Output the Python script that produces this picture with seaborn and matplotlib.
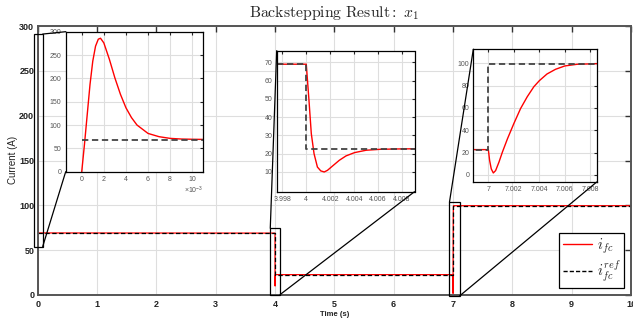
import numpy as np
import pandas as pd
import matplotlib
matplotlib.use("Agg")
import matplotlib.pyplot as plt
import seaborn as sns
from matplotlib.patches import Rectangle, ConnectionPatch
from matplotlib.lines import Line2D

sns.set_style("white")
plt.rcParams['font.family'] = ['Liberation Sans', 'DejaVu Sans']
plt.rcParams['mathtext.fontset'] = 'cm'

# ---- data ----
# start-up transient (t in ms after 0 s)
t_start_ms = [0, 0.25, 0.5, 0.75, 1.0, 1.25, 1.5, 1.7, 2.0, 2.5, 3.0, 3.5, 4.0,
              4.5, 5.0, 5.5, 6.0, 7.0, 8.0, 9.0, 10.0, 11.0]
i_start = [0, 59, 123, 187, 237, 269, 284, 286, 276, 241, 201, 166, 137,
           116, 100, 91, 82, 75, 71.4, 70, 69.5, 69.2]
# step-down transient (t in ms after 4 s)
t_down_ms = [0, 0.225, 0.42, 0.65, 0.93, 1.21, 1.5, 1.77, 2.2, 2.76, 3.32,
             4.03, 5.0, 6.14, 7.55, 9.04]
i_down = [69, 49.3, 31, 20, 12.7, 10.6, 10, 10.9, 13.3, 16.4, 18.8,
          20.6, 21.9, 22.4, 22.6, 22.7]
# step-up transient (t in ms after 7 s)
t_up_ms = [0, 0.1, 0.23, 0.39, 0.57, 0.83, 1.1, 1.5, 2.0, 2.53, 3.05, 3.57,
           4.0, 4.6, 5.27, 6.0, 6.96, 8.48]
i_up = [22.7, 13, 5.4, 1.8, 3.9, 11.4, 20.4, 32.4, 46, 59.5, 70, 79,
        84.4, 90.4, 94.6, 97.6, 99.1, 99.6]
step_times = [0.0, 4.0, 7.0]
t_end = 10.0
i_end = 99.6
# reference current
ref_t = [0, 4, 4, 7, 7, 10]
ref_i = [69, 69, 22.7, 22.7, 99.6, 99.6]

t_all = ([step_times[0] + v * 1e-3 for v in t_start_ms]
         + [step_times[1] + v * 1e-3 for v in t_down_ms]
         + [step_times[2] + v * 1e-3 for v in t_up_ms] + [t_end])
i_all = i_start + i_down + i_up + [i_end]
df = pd.DataFrame({"t": t_all, "i": i_all})
dref = pd.DataFrame({"t": ref_t, "i": ref_i})

W, H = 633, 322
fig = plt.figure(figsize=(W / 100, H / 100), dpi=100)

def fx(px):
    return px / W

def fy(py):
    return 1 - py / H

ax = fig.add_axes([fx(37.7), fy(295), fx(631 - 37.7), 269 / H])
sns.lineplot(data=df, x="t", y="i", ax=ax, color="red", lw=0.9,
             estimator=None, sort=False, legend=False)
sns.lineplot(data=dref, x="t", y="i", ax=ax, color="black", lw=0.9,
             estimator=None, sort=False, legend=False)
ax.lines[-1].set_dashes([3.5, 2])
ax.set_xlim(0, 10)
ax.set_ylim(0, 300)
ax.set_xticks(range(0, 11))
ax.set_yticks(range(0, 301, 50))
ax.set_xlabel("")
ax.set_ylabel("")
ax.grid(True, color="#dedede", lw=0.8)
ax.set_axisbelow(True)
ax.tick_params(direction="in", top=True, right=True, length=4, width=1,
               color="#333333", labelsize=6.5, labelcolor="#222222")
ax.tick_params(axis="x", pad=3.5)
ax.tick_params(axis="y", pad=2.5)
for lab in ax.get_xticklabels() + ax.get_yticklabels():
    lab.set_fontweight("bold")
for sp in ax.spines.values():
    sp.set_color("#555555")
    sp.set_linewidth(1.4)

def make_inset(rect, xlim, ylim, xticks, xlabels, yticks):
    a = fig.add_axes(rect)
    a.set_facecolor("white")
    sns.lineplot(data=df, x="t", y="i", ax=a, color="red", lw=1.0,
                 estimator=None, sort=False, legend=False)
    sns.lineplot(data=dref, x="t", y="i", ax=a, color="#444444", lw=1.3,
                 estimator=None, sort=False, legend=False)
    a.lines[-1].set_dashes([3.5, 2])
    a.set_xlim(*xlim)
    a.set_ylim(*ylim)
    a.set_xticks(xticks)
    a.set_xticklabels(xlabels)
    a.set_yticks(yticks)
    a.set_xlabel("")
    a.set_ylabel("")
    a.grid(True, color="#dedede", lw=0.8)
    a.set_axisbelow(True)
    a.tick_params(direction="in", top=True, right=True, length=2.5, width=0.8,
                  labelsize=5, labelcolor="#555555", pad=3)
    for sp in a.spines.values():
        sp.set_color("black")
        sp.set_linewidth(0.9)
    return a

ins1 = make_inset([fx(65.7), fy(171.7), fx(203.3 - 65.7), 140 / H],
                  (-1.45e-3, 11.0e-3), (0, 300),
                  [0, 2e-3, 4e-3, 6e-3, 8e-3, 10e-3],
                  ["0", "2", "4", "6", "8", "10"], range(0, 301, 50))
ins1.text(1.0, -0.135, r"$\mathregular{\times10^{-3}}$", transform=ins1.transAxes,
          ha="right", va="center", fontsize=5, color="#555555")
ins2 = make_inset([fx(276.7), fy(191.7), fx(414.5 - 276.7), (191.7 - 50.7) / H],
                  (3.99753, 4.00904), (-0.8, 76.4),
                  [3.998, 4.0, 4.002, 4.004, 4.006, 4.008],
                  ["3.998", "4", "4.002", "4.004", "4.006", "4.008"],
                  range(10, 71, 10))
ins3 = make_inset([fx(473.3), fy(182), fx(596.7 - 473.3), (182 - 49.3) / H],
                  (6.99882, 7.0085), (-6.3, 112.5),
                  [7.0, 7.002, 7.004, 7.006, 7.008],
                  ["7", "7.002", "7.004", "7.006", "7.008"],
                  range(0, 101, 20))

# zoom rectangles on main axes
rects = [(-0.062, 54, 0.146, 237), (3.92, 0.5, 0.166, 73.9),
         (6.94, -1.1, 0.17, 104.5)]
for (x0, y0, w, h) in rects:
    ax.add_patch(Rectangle((x0, y0), w, h, fill=False, ec="black", lw=0.9,
                           clip_on=False, zorder=6))

def connect(pt, ins, corner):
    cp = ConnectionPatch(xyA=pt, coordsA=ax.transData, xyB=corner,
                         coordsB=ins.transAxes, color="black", lw=0.9)
    fig.add_artist(cp)

r = rects[0]
connect((r[0] + r[2], r[1] + r[3]), ins1, (0, 1))
connect((r[0] + r[2], r[1]), ins1, (0, 0))
r = rects[1]
connect((r[0], r[1] + r[3]), ins2, (0, 1))
connect((r[0] + r[2], r[1]), ins2, (1, 0))
r = rects[2]
connect((r[0], r[1] + r[3]), ins3, (0, 1))
connect((r[0] + r[2], r[1]), ins3, (1, 0))

handles = [Line2D([], [], color="red", lw=1.0),
           Line2D([], [], color="black", lw=1.0, dashes=[3, 1.5])]
leg = fig.legend(handles, [r"$i_{fc}$", r"$i_{fc}^{ref}$"], loc="lower right",
                 bbox_to_anchor=(fx(624), fy(287.7)), fontsize=10.5,
                 frameon=True, fancybox=False, edgecolor="black",
                 framealpha=1, handlelength=2.0, borderpad=0.25,
                 labelspacing=0.15, handletextpad=0.3, borderaxespad=0)
leg.get_frame().set_linewidth(0.9)

fig.text(fx(334), fy(13), r"$\mathrm{Backstepping\ Result:}\ x_1$",
         ha="center", va="center", fontsize=11.3)
fig.text(fx(335), fy(315), "Time (s)", ha="center", va="center",
         fontsize=5.5, fontweight="bold", color="#222222")
fig.text(fx(13.3), fy(160), "Current (A)", ha="center", va="center",
         rotation=90, fontsize=7, color="#222222")

fig.savefig("out.png", dpi=100)
